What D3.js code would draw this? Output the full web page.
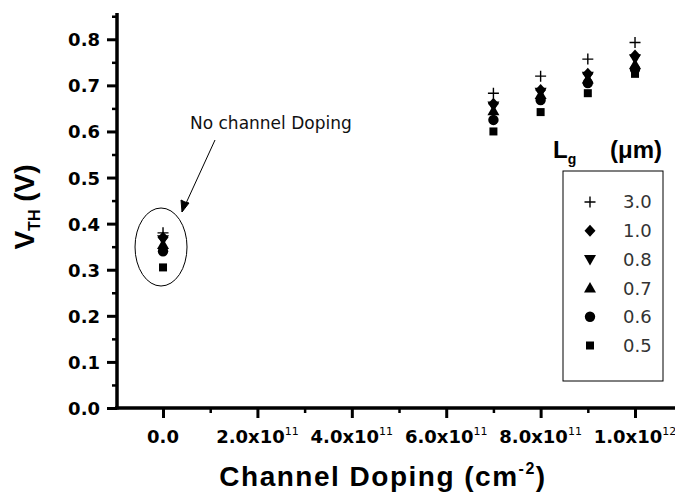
<!DOCTYPE html>
<html>
<head>
<meta charset="utf-8">
<script src="https://cdn.jsdelivr.net/npm/d3@7"></script>
<style>
  body { margin: 0; background: #fff; }
  svg { display: block; }
  text { font-family: "Liberation Sans", Arial, sans-serif; }
  .num { font-family: "DejaVu Sans", sans-serif; }
</style>
</head>
<body>
<svg id="chart" width="675" height="495"></svg>
<script>
// Channel doping levels (cm^-2)
const doping = [0, 7e11, 8e11, 9e11, 1e12];

// Gate lengths (µm) and threshold voltages (V) per doping level
const gateLengths = ["3.0", "1.0", "0.8", "0.7", "0.6", "0.5"];
const vth30 = [0.380, 0.683, 0.720, 0.757, 0.793];
const vth10 = [0.370, 0.660, 0.690, 0.725, 0.765];
const vth08 = [0.365, 0.655, 0.685, 0.720, 0.758];
const vth07 = [0.355, 0.645, 0.680, 0.714, 0.745];
const vth06 = [0.340, 0.625, 0.668, 0.705, 0.735];
const vth05 = [0.305, 0.600, 0.642, 0.683, 0.725];

const xTicks = [0, 2e11, 4e11, 6e11, 8e11, 1e12];
const yTicks = [0, 0.1, 0.2, 0.3, 0.4, 0.5, 0.6, 0.7, 0.8];

const series = [
  { name: gateLengths[0], values: vth30, symbol: "plus" },
  { name: gateLengths[1], values: vth10, symbol: "diamond" },
  { name: gateLengths[2], values: vth08, symbol: "down" },
  { name: gateLengths[3], values: vth07, symbol: "up" },
  { name: gateLengths[4], values: vth06, symbol: "circle" },
  { name: gateLengths[5], values: vth05, symbol: "square" }
];

const svg = d3.select("#chart");

const x = d3.scaleLinear().domain([-0.975e11, 1.2e12]).range([117, 117 + 1.2975 * 472]);
const y = d3.scaleLinear().domain([0, 0.857]).range([408, 13]);

// Marker shapes
function drawMarker(g, kind, cx, cy) {
  const s = g.append("g").attr("transform", `translate(${cx},${cy})`);
  if (kind === "plus") {
    s.append("path").attr("d", "M-5.5,0H5.5M0,-5.5V5.5").attr("stroke", "#000").attr("stroke-width", 1.4).attr("fill", "none");
  } else if (kind === "diamond") {
    s.append("path").attr("d", "M0,-6L5.5,0L0,6L-5.5,0Z").attr("fill", "#000");
  } else if (kind === "down") {
    s.append("path").attr("d", "M-6,-4.5L6,-4.5L0,6Z").attr("fill", "#000");
  } else if (kind === "up") {
    s.append("path").attr("d", "M-6,4.5L6,4.5L0,-6Z").attr("fill", "#000");
  } else if (kind === "circle") {
    s.append("circle").attr("r", 5.2).attr("fill", "#000");
  } else {
    s.append("rect").attr("x", -4).attr("y", -4).attr("width", 8).attr("height", 8).attr("fill", "#000");
  }
}

// Data points, drawn from smallest to largest gate length
const plot = svg.append("g");
series.slice().reverse().forEach(sr => {
  sr.values.forEach((v, i) => drawMarker(plot, sr.symbol, x(doping[i]), y(v)));
});

// Y axis
const yAxisMajor = d3.axisLeft(y).tickValues(yTicks).tickSize(10).tickFormat(d3.format(".1f"));
const gy = svg.append("g").attr("transform", "translate(117,0)").call(yAxisMajor);
gy.select(".domain").remove();
gy.selectAll(".tick line").attr("stroke-width", 3).attr("stroke", "#000");
gy.selectAll(".tick text").attr("class", "num").attr("x", -17).attr("dy", "0.36em")
  .style("font-size", "18px").style("font-weight", "bold").attr("fill", "#000");
const yMinor = d3.axisLeft(y).tickValues(d3.range(0.05, 0.86, 0.1)).tickSize(5).tickFormat("");
const gym = svg.append("g").attr("transform", "translate(117,0)").call(yMinor);
gym.select(".domain").remove();
gym.selectAll(".tick line").attr("stroke-width", 2.5).attr("stroke", "#000");
svg.append("line").attr("x1", 117).attr("x2", 117).attr("y1", y(0.857)).attr("y2", 409.5)
  .attr("stroke", "#000").attr("stroke-width", 3.5);

// X axis
const xAxisMajor = d3.axisBottom(x).tickValues(xTicks).tickSize(10).tickFormat("");
const gx = svg.append("g").attr("transform", "translate(0,408)").call(xAxisMajor);
gx.select(".domain").remove();
gx.selectAll(".tick line").attr("stroke-width", 3).attr("stroke", "#000");
const xMinor = d3.axisBottom(x).tickValues([1e11, 3e11, 5e11, 7e11, 9e11, 1.1e12]).tickSize(5).tickFormat("");
const gxm = svg.append("g").attr("transform", "translate(0,408)").call(xMinor);
gxm.select(".domain").remove();
gxm.selectAll(".tick line").attr("stroke-width", 2.5).attr("stroke", "#000");
svg.append("line").attr("x1", 115).attr("x2", 675).attr("y1", 408).attr("y2", 408)
  .attr("stroke", "#000").attr("stroke-width", 3.5);

// X tick labels with power-of-ten notation
xTicks.forEach(v => {
  const t = svg.append("text").attr("class", "num").attr("x", x(v)).attr("y", 443).attr("text-anchor", "middle")
    .style("font-size", "18px").style("font-weight", "bold").attr("fill", "#000");
  if (v === 0) {
    t.text("0.0");
  } else {
    const exp = Math.floor(Math.log10(v));
    const mant = (v / Math.pow(10, exp)).toFixed(1);
    t.append("tspan").text(mant + "x10");
    t.append("tspan").attr("dy", -8).style("font-size", "11px").style("font-weight", "normal").text(exp);
  }
});

// Axis titles
const yTitle = svg.append("text").attr("transform", "translate(34,207) rotate(-90)")
  .attr("text-anchor", "middle").style("font-size", "28px").style("font-weight", "bold").attr("fill", "#000");
yTitle.append("tspan").text("V");
yTitle.append("tspan").attr("dy", 6).style("font-size", "16px").text("TH");
yTitle.append("tspan").attr("dy", -6).text(" (V)");

const xTitle = svg.append("text").attr("x", 383).attr("y", 486).attr("text-anchor", "middle")
  .style("font-size", "28px").style("font-weight", "bold").attr("fill", "#000").style("letter-spacing", "1.5px");
xTitle.append("tspan").text("Channel Doping (cm");
xTitle.append("tspan").attr("dy", -12).style("font-size", "16px").text("-2");
xTitle.append("tspan").attr("dy", 12).text(")");

// Annotation for the undoped case
svg.append("ellipse").attr("cx", x(0) - 2).attr("cy", 247).attr("rx", 26).attr("ry", 39)
  .attr("fill", "none").attr("stroke", "#000").attr("stroke-width", 1);
svg.append("line").attr("x1", 215).attr("y1", 140).attr("x2", 182).attr("y2", 212)
  .attr("stroke", "#000").attr("stroke-width", 1);
svg.append("path").attr("d", "M182,212 L181,200 L185,202 L189,203 Z")
  .attr("stroke", "#000").attr("stroke-width", 1).attr("fill", "#000");
svg.append("text").attr("class", "num").attr("x", 190).attr("y", 129).style("font-size", "17px").attr("fill", "#111")
  .text("No channel Doping");

// Legend
const lgTitle = svg.append("text").attr("x", 553).attr("y", 158)
  .style("font-size", "24px").style("font-weight", "bold").attr("fill", "#000");
lgTitle.append("tspan").text("L");
lgTitle.append("tspan").attr("dy", 6).style("font-size", "14px").text("g");
lgTitle.append("tspan").attr("dy", -6).attr("x", 610).text("(μm)");

svg.append("rect").attr("x", 563).attr("y", 171).attr("width", 100).attr("height", 210)
  .attr("fill", "#fff").attr("stroke", "#000").attr("stroke-width", 1);
series.forEach((sr, i) => {
  const ly = 202 + i * 28.7;
  drawMarker(svg, sr.symbol, 590, ly);
  svg.append("text").attr("class", "num").attr("x", 623).attr("y", ly).attr("dy", "0.36em")
    .style("font-size", "18px").attr("fill", "#333").text(sr.name);
});
</script>
</body>
</html>
